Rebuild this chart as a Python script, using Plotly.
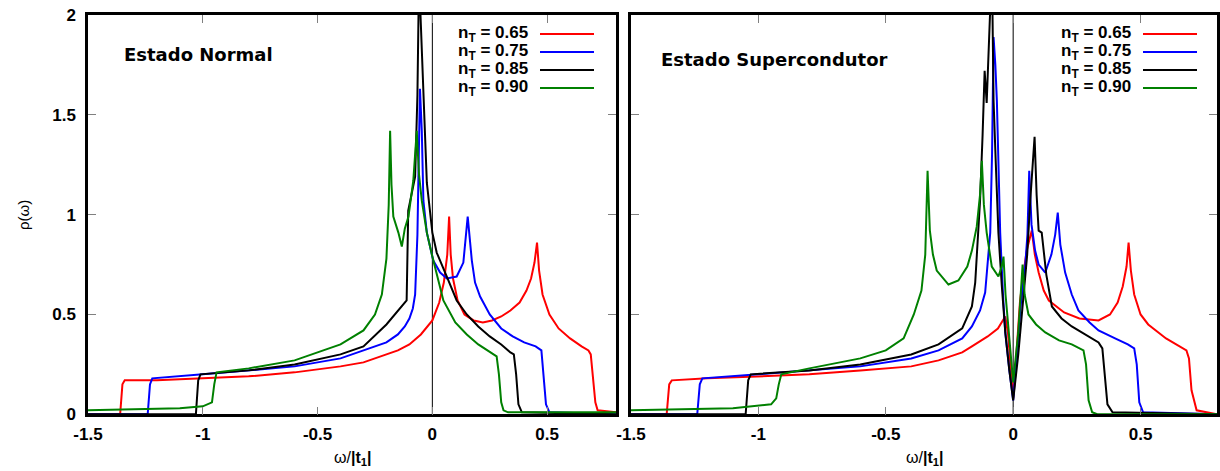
import plotly.graph_objects as go

W, H = 1220, 471

# ---------------- data ----------------
labels = ["n<sub>T</sub> = 0.65", "n<sub>T</sub> = 0.75", "n<sub>T</sub> = 0.85", "n<sub>T</sub> = 0.90"]
colors = ["#ff0000", "#0000ff", "#000000", "#008000"]
x_ticks = [-1.5, -1, -0.5, 0, 0.5]
x_ticklabels = ["-1.5", "-1", "-0.5", "0", "0.5"]
y_ticks = [0, 0.5, 1, 1.5, 2]
y_ticklabels = ["0", "0.5", "1", "1.5", "2"]

# Normal state
normal_r_x = [-1.5, -1.36, -1.35, -1.34, -1.2, -1.0, -0.8, -0.6, -0.4, -0.3, -0.2, -0.15, -0.1, -0.05, 0.0, 0.03, 0.05, 0.065, 0.073, 0.08, 0.09, 0.11, 0.14, 0.18, 0.22, 0.26, 0.30, 0.34, 0.38, 0.41, 0.43, 0.445, 0.456, 0.465, 0.48, 0.51, 0.55, 0.6, 0.65, 0.68, 0.69, 0.70, 0.71, 0.72, 0.8]
normal_r_y = [0.0, 0.0, 0.15, 0.17, 0.17, 0.18, 0.19, 0.21, 0.24, 0.26, 0.30, 0.32, 0.35, 0.40, 0.47, 0.56, 0.66, 0.80, 0.99, 0.80, 0.68, 0.57, 0.50, 0.47, 0.46, 0.47, 0.49, 0.52, 0.56, 0.62, 0.68, 0.76, 0.86, 0.72, 0.60, 0.50, 0.43, 0.38, 0.34, 0.32, 0.30, 0.18, 0.06, 0.02, 0.01]

normal_b_x = [-1.5, -1.24, -1.23, -1.22, -1.0, -0.8, -0.6, -0.4, -0.3, -0.2, -0.15, -0.12, -0.1, -0.085, -0.075, -0.065, -0.054, -0.046, -0.039, -0.024, 0.004, 0.034, 0.063, 0.106, 0.135, 0.154, 0.172, 0.186, 0.208, 0.25, 0.3, 0.35, 0.4, 0.45, 0.475, 0.485, 0.495, 0.51, 0.8]
normal_b_y = [0.0, 0.0, 0.15, 0.18, 0.20, 0.22, 0.24, 0.28, 0.32, 0.36, 0.40, 0.44, 0.48, 0.53, 0.60, 0.90, 1.63, 1.42, 1.07, 0.91, 0.77, 0.71, 0.68, 0.69, 0.76, 0.99, 0.77, 0.66, 0.59, 0.50, 0.43, 0.39, 0.36, 0.34, 0.32, 0.20, 0.05, 0.01, 0.0]

normal_k_x = [-1.5, -1.03, -1.02, -1.01, -0.8, -0.6, -0.4, -0.3, -0.2, -0.15, -0.112, -0.105, -0.09, -0.075, -0.065, -0.058, -0.05, -0.039, -0.024, 0.0, 0.019, 0.063, 0.106, 0.15, 0.2, 0.25, 0.3, 0.34, 0.355, 0.365, 0.375, 0.39, 0.8]
normal_k_y = [0.0, 0.0, 0.17, 0.20, 0.22, 0.25, 0.30, 0.34, 0.45, 0.52, 0.57, 1.02, 1.10, 1.19, 1.60, 2.20, 1.95, 1.57, 1.16, 0.91, 0.81, 0.69, 0.57, 0.50, 0.44, 0.39, 0.35, 0.31, 0.30, 0.20, 0.05, 0.01, 0.0]

normal_g_x = [-1.5, -1.3, -1.1, -1.0, -0.96, -0.95, -0.94, -0.8, -0.6, -0.4, -0.3, -0.25, -0.22, -0.2, -0.19, -0.184, -0.178, -0.17, -0.148, -0.133, -0.12, -0.104, -0.083, -0.068, -0.058, -0.046, -0.024, 0.0, 0.048, 0.1, 0.15, 0.2, 0.25, 0.28, 0.29, 0.30, 0.31, 0.33, 0.8]
normal_g_y = [0.02, 0.025, 0.03, 0.04, 0.06, 0.15, 0.21, 0.23, 0.27, 0.35, 0.42, 0.50, 0.60, 0.78, 1.05, 1.42, 1.15, 0.99, 0.91, 0.84, 0.93, 0.99, 1.17, 1.42, 1.20, 1.07, 0.91, 0.79, 0.57, 0.46, 0.40, 0.35, 0.31, 0.29, 0.20, 0.06, 0.02, 0.01, 0.01]

# Superconducting state
sc_r_x = [-1.5, -1.36, -1.35, -1.34, -1.2, -1.0, -0.8, -0.6, -0.4, -0.293, -0.2, -0.162, -0.1, -0.06, -0.04, -0.031, -0.02, -0.01, 0.0, 0.01, 0.027, 0.04, 0.053, 0.065, 0.073, 0.085, 0.1, 0.12, 0.14, 0.2, 0.26, 0.335, 0.38, 0.41, 0.43, 0.445, 0.453, 0.462, 0.475, 0.5, 0.53, 0.6, 0.65, 0.68, 0.69, 0.70, 0.72, 0.8]
sc_r_y = [0.0, 0.0, 0.15, 0.17, 0.18, 0.19, 0.20, 0.22, 0.24, 0.27, 0.31, 0.34, 0.39, 0.43, 0.47, 0.49, 0.40, 0.25, 0.08, 0.25, 0.57, 0.70, 0.82, 0.88, 0.92, 0.80, 0.71, 0.62, 0.57, 0.51, 0.48, 0.47, 0.50, 0.56, 0.64, 0.74, 0.86, 0.72, 0.60, 0.50, 0.45, 0.38, 0.34, 0.32, 0.28, 0.12, 0.02, 0.0]

sc_b_x = [-1.5, -1.24, -1.23, -1.22, -1.0, -0.8, -0.6, -0.4, -0.293, -0.2, -0.162, -0.13, -0.11, -0.09, -0.083, -0.077, -0.07, -0.064, -0.057, -0.051, -0.04, -0.031, -0.015, 0.0, 0.015, 0.03, 0.047, 0.056, 0.063, 0.072, 0.086, 0.1, 0.126, 0.15, 0.165, 0.175, 0.185, 0.204, 0.23, 0.256, 0.3, 0.335, 0.4, 0.45, 0.475, 0.485, 0.495, 0.51, 0.8]
sc_b_y = [0.0, 0.0, 0.15, 0.18, 0.20, 0.22, 0.24, 0.28, 0.32, 0.38, 0.44, 0.52, 0.61, 0.91, 1.30, 1.89, 1.75, 1.57, 1.20, 0.91, 0.60, 0.41, 0.22, 0.07, 0.30, 0.55, 0.74, 0.90, 1.22, 0.95, 0.82, 0.75, 0.71, 0.80, 0.90, 1.01, 0.85, 0.71, 0.60, 0.52, 0.46, 0.42, 0.38, 0.35, 0.33, 0.25, 0.06, 0.01, 0.0]

sc_k_x = [-1.5, -1.05, -1.04, -1.03, -0.8, -0.6, -0.4, -0.293, -0.2, -0.162, -0.149, -0.13, -0.12, -0.112, -0.104, -0.096, -0.088, -0.082, -0.077, -0.068, -0.058, -0.045, -0.031, -0.015, 0.0, 0.02, 0.04, 0.055, 0.067, 0.077, 0.084, 0.092, 0.1, 0.112, 0.13, 0.152, 0.19, 0.23, 0.28, 0.335, 0.35, 0.36, 0.37, 0.39, 0.8]
sc_k_y = [0.0, 0.0, 0.17, 0.20, 0.22, 0.25, 0.30, 0.35, 0.43, 0.54, 0.66, 1.07, 1.40, 1.72, 1.56, 1.80, 2.10, 2.10, 1.57, 1.25, 0.91, 0.65, 0.41, 0.22, 0.07, 0.30, 0.57, 0.80, 1.07, 1.25, 1.39, 1.10, 0.92, 0.91, 0.70, 0.54, 0.48, 0.44, 0.40, 0.36, 0.33, 0.20, 0.05, 0.01, 0.0]

sc_g_x = [-1.5, -1.3, -1.1, -0.95, -0.93, -0.92, -0.91, -0.8, -0.6, -0.5, -0.43, -0.39, -0.36, -0.345, -0.336, -0.327, -0.315, -0.3, -0.254, -0.215, -0.18, -0.162, -0.143, -0.13, -0.123, -0.115, -0.104, -0.084, -0.058, -0.045, -0.038, -0.03, -0.018, 0.0, 0.02, 0.03, 0.037, 0.045, 0.06, 0.09, 0.126, 0.18, 0.23, 0.276, 0.286, 0.296, 0.31, 0.33, 0.8]
sc_g_y = [0.02, 0.025, 0.03, 0.05, 0.08, 0.15, 0.20, 0.23, 0.28, 0.32, 0.38, 0.50, 0.62, 0.80, 1.22, 0.92, 0.80, 0.72, 0.65, 0.67, 0.74, 0.82, 0.94, 1.10, 1.27, 1.05, 0.91, 0.74, 0.69, 0.74, 0.79, 0.60, 0.41, 0.16, 0.41, 0.60, 0.75, 0.60, 0.50, 0.45, 0.41, 0.37, 0.35, 0.32, 0.25, 0.07, 0.01, 0.0, 0.0]

normal_series = [(normal_r_x, normal_r_y), (normal_b_x, normal_b_y), (normal_k_x, normal_k_y), (normal_g_x, normal_g_y)]
sc_series = [(sc_r_x, sc_r_y), (sc_b_x, sc_b_y), (sc_k_x, sc_k_y), (sc_g_x, sc_g_y)]

# ---------------- figure ----------------
fig = go.Figure()
for (xs, ys), c, lab in zip(normal_series, colors, labels):
    fig.add_trace(go.Scatter(x=xs, y=ys, mode="lines", line=dict(color=c, width=2),
                             xaxis="x", yaxis="y", showlegend=False, name=lab))
for (xs, ys), c, lab in zip(sc_series, colors, labels):
    fig.add_trace(go.Scatter(x=xs, y=ys, mode="lines", line=dict(color=c, width=2),
                             xaxis="x2", yaxis="y2", showlegend=False, name=lab))

def px(x):
    return x / W

def py(y):
    return 1 - y / H

L0, L1 = 88, 616
R0, R1 = 631, 1217
T, B = 15, 414.3

FONT = "Liberation Sans, Arial, sans-serif"
tickfont = dict(family=FONT, size=17, color="black", weight="bold")
axis_common = dict(showline=True, linewidth=2.5, linecolor="black", mirror="allticks",
                   ticks="inside", ticklen=8, tickwidth=1, tickcolor="#808080",
                   showgrid=False, zeroline=False, tickfont=tickfont, automargin=False)

fig.update_layout(
    width=W, height=H, margin=dict(l=0, r=0, t=0, b=0, autoexpand=False),
    paper_bgcolor="white", plot_bgcolor="white",
    xaxis=dict(domain=[px(L0), px(L1)], range=[-1.5, 0.8], tickvals=x_ticks, ticktext=x_ticklabels,
               anchor="y", ticklabelstandoff=3, **axis_common),
    yaxis=dict(domain=[py(B), py(T)], range=[0, 2], tickvals=y_ticks, ticktext=y_ticklabels,
               anchor="x", ticklabelstandoff=6, **axis_common),
    xaxis2=dict(domain=[px(R0), px(R1)], range=[-1.5, 0.8], tickvals=x_ticks, ticktext=x_ticklabels,
                anchor="y2", ticklabelstandoff=3, **axis_common),
    yaxis2=dict(domain=[py(B), py(T)], range=[0, 2], tickvals=y_ticks, showticklabels=False,
                anchor="x2", **axis_common),
)

# zero vertical lines
for xr, yr in [("x", "y domain"), ("x2", "y2 domain")]:
    fig.add_shape(type="line", xref=xr, yref=yr, x0=0, x1=0, y0=0, y1=1,
                  line=dict(color="black", width=1), layer="below")

# legends (text then line sample)
rows = [34, 52, 70, 88]
for panel_text_right, line0, line1 in [(530, 540, 594), (1133, 1143, 1197)]:
    for r, c, lab in zip(rows, colors, labels):
        fig.add_annotation(text="<b>" + lab + "</b>", xref="paper", yref="paper",
                           x=px(panel_text_right), y=py(r), xanchor="right", yanchor="middle",
                           showarrow=False, font=dict(family=FONT, size=17, color="black"))
        fig.add_shape(type="line", xref="paper", yref="paper", x0=px(line0), x1=px(line1),
                      y0=py(r), y1=py(r), line=dict(color=c, width=2))

# panel titles
fig.add_annotation(text="<b>Estado Normal</b>", xref="paper", yref="paper", x=px(122), y=py(55),
                   xanchor="left", yanchor="middle", showarrow=False,
                   font=dict(family="DejaVu Sans", size=18, color="black"))
fig.add_annotation(text="<b>Estado Supercondutor</b>", xref="paper", yref="paper", x=px(659), y=py(60),
                   xanchor="left", yanchor="middle", showarrow=False,
                   font=dict(family="DejaVu Sans", size=18, color="black"))

# axis titles
for cx in [(L0 + L1) / 2, (R0 + R1) / 2]:
    fig.add_annotation(text="ω/<b>|t<sub>1</sub>|</b>", xref="paper", yref="paper", x=px(cx), y=py(458),
                       xanchor="center", yanchor="middle", showarrow=False,
                       font=dict(family=FONT, size=16, color="black"))
fig.add_annotation(text="ρ(ω)", xref="paper", yref="paper", x=px(23), y=py(215), textangle=-90,
                   xanchor="center", yanchor="middle", showarrow=False,
                   font=dict(family=FONT, size=15, color="black"))

fig.write_html("out.html")
